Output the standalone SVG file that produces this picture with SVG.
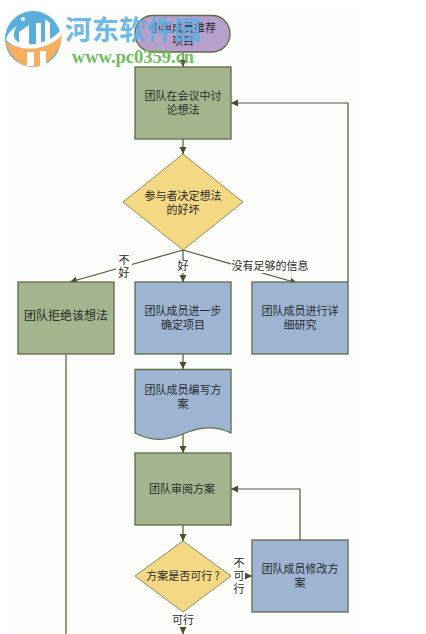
<svg xmlns="http://www.w3.org/2000/svg" width="426" height="634" viewBox="0 0 426 634">
<defs>
<marker id="a" markerUnits="userSpaceOnUse" markerWidth="8" markerHeight="8" refX="7" refY="3.500" orient="auto"><path d="M0 0L7 3.500L0 7Z" fill="#454f2b"/></marker>
</defs>
<style>
.n{stroke:#5f6b47;stroke-width:1.3}
.d{stroke:#8f8c5c;stroke-width:1}
.g{fill:#a3b58c}.b{fill:#9db5d3}.y{fill:#f5d883}.p{fill:#b8a0cc}
text{font-family:"Noto Sans CJK SC","Liberation Sans",sans-serif;font-size:11px;fill:#2b2b2b;text-anchor:middle}
.c{fill:none;stroke:#4f5a33;stroke-width:1.2}
</style>
<rect width="426" height="634" fill="#fff"/>
<rect x="11" y="9" width="344" height="625" fill="#fcfdfb"/>
<g id="connectors">
<path class="c" d="M183 53V67" marker-end="url(#a)"/>
<path class="c" d="M183 139V154" marker-end="url(#a)"/>
<path class="c" d="M183 250L70 282" marker-end="url(#a)"/>
<path class="c" d="M183 250V282" marker-end="url(#a)"/>
<path class="c" d="M183 250L297 283" marker-end="url(#a)"/>
<path class="c" d="M183 354V369" marker-end="url(#a)"/>
<path class="c" d="M183 433V453" marker-end="url(#a)"/>
<path class="c" d="M183 525V541" marker-end="url(#a)"/>
<path class="c" d="M348 282V103H231" marker-end="url(#a)"/>
<path class="c" d="M300 540V489H231" marker-end="url(#a)"/>
<path class="c" d="M247 576H252" marker-end="url(#a)"/>
<path class="c" d="M183 627V634" marker-end="url(#a)"/>
<path class="c" d="M66 354V634"/>
</g>
<g id="n1"><rect class="n p" x="135" y="15.500" width="95" height="36.500" rx="18"/><text x="183" y="32">小组成员推荐</text><text x="183" y="45">项目</text></g>
<g id="n2"><rect class="n g" x="135" y="67" width="96" height="72"/><text x="183" y="100">团队在会议中讨</text><text x="183" y="114">论想法</text></g>
<g id="n3"><path class="n y d" d="M183 154L243 202L183 250L123 202Z"/><text x="183" y="200">参与者决定想法</text><text x="183" y="214">的好坏</text></g>
<g id="n4"><rect class="n g" x="18" y="282" width="96" height="72"/><text x="66" y="320" style="font-size:12px">团队拒绝该想法</text></g>
<g id="n5"><rect class="n b" x="135" y="282" width="96" height="72"/><text x="183" y="315">团队成员进一步</text><text x="183" y="329">确定项目</text></g>
<g id="n6"><rect class="n b" x="252" y="282" width="96" height="72"/><text x="300" y="315">团队成员进行详</text><text x="300" y="329">细研究</text></g>
<g id="n7"><path class="n b" d="M135 369.500H231V433C215 425 200 427 183 434C167 441 150 441 135 433Z"/><text x="183" y="394">团队成员编写方</text><text x="183" y="408">案</text></g>
<g id="n8"><rect class="n g" x="135" y="453" width="96" height="72"/><text x="182" y="493">团队审阅方案</text></g>
<g id="n9"><path class="n y d" d="M183 541L231 576L183 612L135 576Z"/><text x="183" y="580">方案是否可行 ?</text></g>
<g id="n10"><rect class="n b" x="252" y="540" width="96" height="72"/><text x="300" y="573">团队成员修改方</text><text x="300" y="587">案</text></g>
<g id="labels">
<rect x="116" y="255" width="16" height="26" fill="#fcfdfb"/><text x="124" y="264">不</text><text x="124" y="277">好</text>
<rect x="176" y="260" width="14" height="13" fill="#fcfdfb"/><text x="183" y="270">好</text>
<rect x="231" y="260" width="78" height="13" fill="#fcfdfb"/><text x="270" y="270">没有足够的信息</text>
<text x="239" y="567">不</text><text x="239" y="580">可</text><text x="239" y="593">行</text>
<text x="183" y="624">可行</text>
</g>
<g id="watermark">
<circle cx="33" cy="39" r="28" fill="#5aaedc"/>
<path d="M5 41C18 52 45 50 61 33C62 36 61 42 61 44C55 57 45 67 33 67C20 67 9 56 5 41Z" fill="#f8ae5f"/>
<path d="M6 40C7 34 12 29 17 26C12 33 13 40 20 43C32 47 50 42 60 31L61 36C48 50 20 54 6 40Z" fill="#fff"/>
<path d="M19 32L29 25V47H19ZM36 23H41V47H36ZM45 19L50 23V42L45 44Z" fill="#fff"/>
<path d="M27 52H34V66H27ZM40 51H46V64L40 66Z" fill="#fff"/>
<circle cx="23" cy="19" r="2" fill="#fff"/>
<text x="133" y="40" style="font-size:27px;font-weight:700;fill:#5bb0e6;fill-opacity:.9;letter-spacing:.3px">河东软件园</text>
<text x="133" y="63" style="font-family:'Liberation Serif',serif;font-size:18.500px;font-weight:700;fill:#71bb62">www.pc0359.cn</text>
</g>
</svg>
